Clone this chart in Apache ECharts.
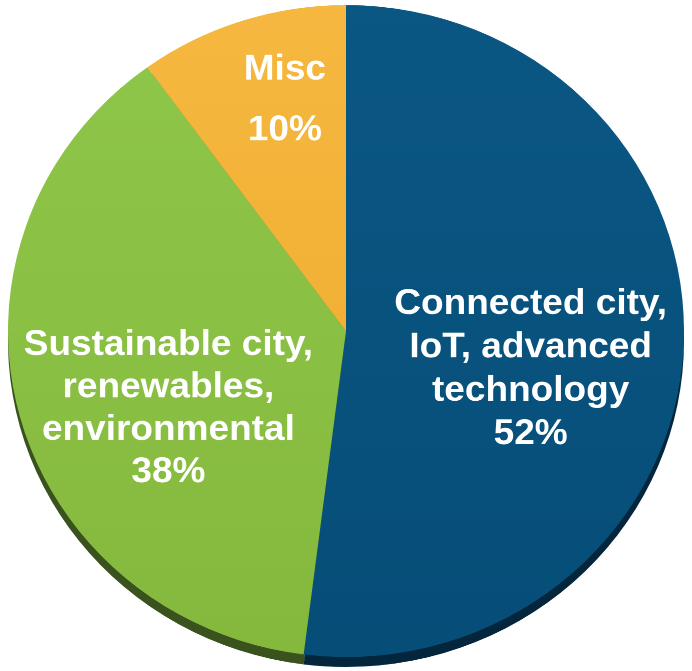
<!DOCTYPE html>
<html>
<head>
<meta charset="utf-8">
<script src="https://cdn.jsdelivr.net/npm/echarts@6/dist/echarts.min.js"></script>
<style>
  html, body { margin: 0; padding: 0; background: #ffffff; overflow: hidden; }
  /* the pie is drawn on a taller canvas and flattened a little for a tilted look */
  #chart { width: 692px; height: 696px; transform: scaleY(0.9645); transform-origin: 0 0; }
</style>
</head>
<body>
<div id="chart"></div>
<script>
// Share of projects by theme
const categories = ['Connected city,\nIoT, advanced\ntechnology', 'Sustainable city,\nrenewables,\nenvironmental', 'Misc'];
const shares = [52, 38, 10];

// face colours (top, bottom of a soft vertical gradient) and the darker rim below
const faceColors = [['#0b5784', '#064e78'], ['#8ec649', '#85b93e'], ['#f6b840', '#f2b136']];
const rimColors = ['#03263c', '#3a521d', '#7d5a18'];

// label nudges from the default inside position, and line spacing per label
const labelShift = [[13, 29], [-11, 38], [-8, -76]];
const labelLineHeight = [45, 44, 63];

const chart = echarts.init(document.getElementById('chart'), null, { renderer: 'canvas', devicePixelRatio: 2 });

const faceData = categories.map((name, i) => ({
  name: name,
  value: shares[i],
  itemStyle: {
    color: new echarts.graphic.LinearGradient(0, 0, 0, 1, [
      { offset: 0, color: faceColors[i][0] },
      { offset: 1, color: faceColors[i][1] }
    ])
  }
}));

const rimData = categories.map((name, i) => ({
  name: name,
  value: shares[i],
  itemStyle: { color: rimColors[i] }
}));

const labelFont = 'Liberation Sans, Arial, Helvetica, sans-serif';

function textStyle(lh) {
  return { color: '#ffffff', fontFamily: labelFont, fontWeight: 'bold', fontSize: 37, lineHeight: lh, align: 'center' };
}

chart.setOption({
  backgroundColor: '#ffffff',
  animation: false,
  series: [
    {
      // rim under the pie face
      type: 'pie',
      z: 1,
      silent: true,
      center: [346, 353.5],
      radius: 338,
      startAngle: 90,
      clockwise: true,
      label: { show: false },
      labelLine: { show: false },
      data: rimData
    },
    {
      type: 'pie',
      z: 2,
      center: [346, 343.2],
      radius: 338,
      startAngle: 90,
      clockwise: true,
      itemStyle: { borderWidth: 0 },
      labelLine: { show: false },
      label: {
        show: true,
        position: 'inside',
        color: '#ffffff',
        fontFamily: labelFont,
        fontWeight: 'bold',
        fontSize: 37,
        align: 'center',
        formatter: function (p) {
          const key = 't' + p.dataIndex;
          const lines = p.name.split('\n').concat([p.value + '%']);
          return lines.map(l => '{' + key + '|' + l + '}').join('\n');
        },
        rich: {
          t0: textStyle(labelLineHeight[0]),
          t1: textStyle(labelLineHeight[1]),
          t2: textStyle(labelLineHeight[2])
        }
      },
      labelLayout: function (params) {
        const s = labelShift[params.dataIndex];
        return { dx: s[0], dy: s[1] };
      },
      data: faceData
    }
  ]
});
</script>
</body>
</html>
